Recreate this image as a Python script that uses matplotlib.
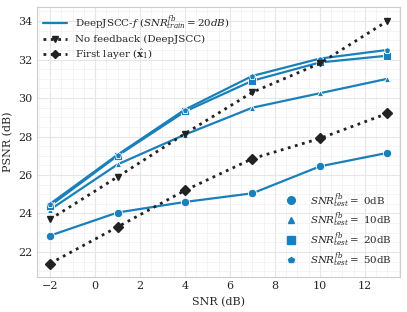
import numpy as np
import matplotlib.pyplot as plt
import seaborn as sns
from matplotlib.lines import Line2D

sns.set_style("whitegrid")
plt.rcParams['font.family'] = ['DejaVu Serif']
plt.rcParams['mathtext.fontset'] = 'dejavuserif'

snr = [-2, 1, 4, 7, 10, 13]

psnr_fb0 = [22.85, 24.05, 24.6, 25.05, 26.45, 27.15]
psnr_fb10 = [24.2, 26.55, 28.1, 29.5, 30.25, 31.0]
psnr_fb20 = [24.4, 27.0, 29.3, 30.9, 31.85, 32.2]
psnr_fb50 = [24.5, 27.05, 29.4, 31.15, 32.05, 32.5]
psnr_nofb = [23.7, 25.9, 28.15, 30.3, 31.8, 34.0]
psnr_first = [21.4, 23.3, 25.2, 26.85, 27.9, 29.2]

fb_labels = ['0dB', '10dB', '20dB', '50dB']
blue = '#1a80bb'

fig, ax = plt.subplots(figsize=(4.07, 3.12), dpi=100)
fig.subplots_adjust(left=37/407, right=400/407, top=1 - 7/312, bottom=1 - 277/312)

series = [psnr_fb0, psnr_fb10, psnr_fb20, psnr_fb50]
markers = ['o', '^', 's', 'p']
sizes = [6, 5, 5.5, 5]
for vals, m, ms in zip(series, markers, sizes):
    ax.plot(snr, vals, color=blue, lw=1.6, marker=m, ms=ms,
            markeredgecolor='white', markeredgewidth=0.6)

ax.plot(snr, psnr_nofb, color='#222222', ls=':', lw=2, marker='v', ms=5)
ax.plot(snr, psnr_first, color='#222222', ls=':', lw=2, marker='D', ms=5)

ax.set_xlim(-2.58, 13.56)
ax.set_ylim(20.7, 34.73)
ax.set_xticks([-2, 0, 2, 4, 6, 8, 10, 12])
ax.set_yticks([22, 24, 26, 28, 30, 32, 34])
ax.minorticks_on()
ax.grid(which='minor', color='#f0f0f0', lw=0.5)
ax.grid(which='major', color='#e6e6e6', lw=0.8)
ax.tick_params(which='both', length=0, labelsize=8, pad=3)
ax.set_xlabel('SNR (dB)', fontsize=8, labelpad=4)
ax.set_ylabel('PSNR (dB)', fontsize=8, labelpad=4)

h1 = [Line2D([], [], color=blue, lw=1.6),
      Line2D([], [], color='#222222', ls=':', lw=2, marker='v', ms=4),
      Line2D([], [], color='#222222', ls=':', lw=2, marker='D', ms=4)]
l1 = [r'DeepJSCC-$f$ ($SNR^{fb}_{train}=20dB$)',
      'No feedback (DeepJSCC)',
      r'First layer ($\hat{\mathbf{x}}_1$)']
leg1 = ax.legend(h1, l1, loc='upper left', fontsize=7.4, frameon=False,
                 handlelength=2.3, borderaxespad=0.2, labelspacing=0.3)
ax.add_artist(leg1)

h2 = [Line2D([], [], color=blue, ls='none', marker=m, ms=s)
      for m, s in zip(markers, [5.5, 4.5, 5.5, 4])]
l2 = [r'$SNR^{fb}_{test}=$ ' + t for t in fb_labels]
ax.legend(h2, l2, loc='lower right', fontsize=7.4, frameon=False,
          borderaxespad=0.4, labelspacing=0.1)

plt.savefig('out.png', dpi=100)
